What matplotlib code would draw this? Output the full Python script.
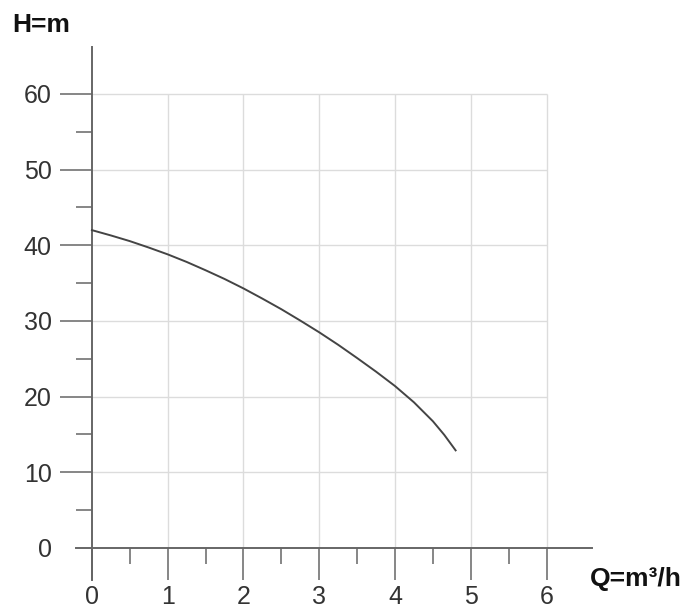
import numpy as np
import matplotlib
matplotlib.use("Agg")
import matplotlib.pyplot as plt
from matplotlib.ticker import FixedLocator

# pump curve
flow = [0, 0.25, 0.5, 0.75, 1, 1.25, 1.5, 1.75, 2, 2.25, 2.5, 2.75, 3,
        3.25, 3.5, 3.75, 4, 4.25, 4.5, 4.65, 4.8]
head = [42, 41.3, 40.55, 39.7, 38.8, 37.8, 36.7, 35.55, 34.3, 32.95, 31.55,
        30.05, 28.5, 26.85, 25.1, 23.3, 21.4, 19.25, 16.75, 14.95, 12.9]

x_ticks = [0, 1, 2, 3, 4, 5, 6]
y_ticks = [0, 10, 20, 30, 40, 50, 60]
x_minor = [0.5, 1.5, 2.5, 3.5, 4.5, 5.5]
y_minor = [5, 15, 25, 35, 45, 55]

W, H = 685, 611
plt.rcParams['font.family'] = ['Liberation Sans', 'DejaVu Sans']

fig = plt.figure(figsize=(W / 100, H / 100), dpi=100)
ax = fig.add_axes([76 / W, (H - 580) / H, 516 / W, 533 / H])
ax.set_xlim(-0.21, 6.6)
ax.set_ylim(-4.23, 66.2)

# grid box only up to 6 / 60
ax.vlines(x_ticks[1:], 0, 60, color='#dcdcdc', lw=1.0, zorder=0)
ax.hlines(y_ticks[1:], 0, 6, color='#dcdcdc', lw=1.0, zorder=0)

ax.plot(flow, head, color='#444444', lw=1.4, zorder=3)

for side in ['top', 'right']:
    ax.spines[side].set_visible(False)
for side in ['left', 'bottom']:
    ax.spines[side].set_position(('data', 0))
    ax.spines[side].set_color('#666666')
    ax.spines[side].set_linewidth(1.4)

ax.set_xticks(x_ticks)
ax.set_yticks(y_ticks)
ax.xaxis.set_minor_locator(FixedLocator(x_minor))
ax.yaxis.set_minor_locator(FixedLocator(y_minor))
ax.tick_params(which='major', direction='out', length=23, width=1.1,
               color='#666666', labelsize=18, labelcolor='#333333')
ax.tick_params(which='minor', direction='out', length=11.5, width=1.1,
               color='#666666')
ax.tick_params(axis='x', which='major', pad=4)
ax.tick_params(axis='y', which='major', pad=6)
ax.yaxis.get_major_ticks()[0].tick1line.set_visible(False)

fig.text(12 / W, 1 - 25 / H, 'H=m', fontsize=19, fontweight='bold',
         ha='left', va='center', color='#111111')
fig.text(590 / W, 1 - 579 / H, 'Q=m³/h', fontsize=19, fontweight='bold',
         ha='left', va='center', color='#111111')

fig.savefig('out.png', dpi=100)
